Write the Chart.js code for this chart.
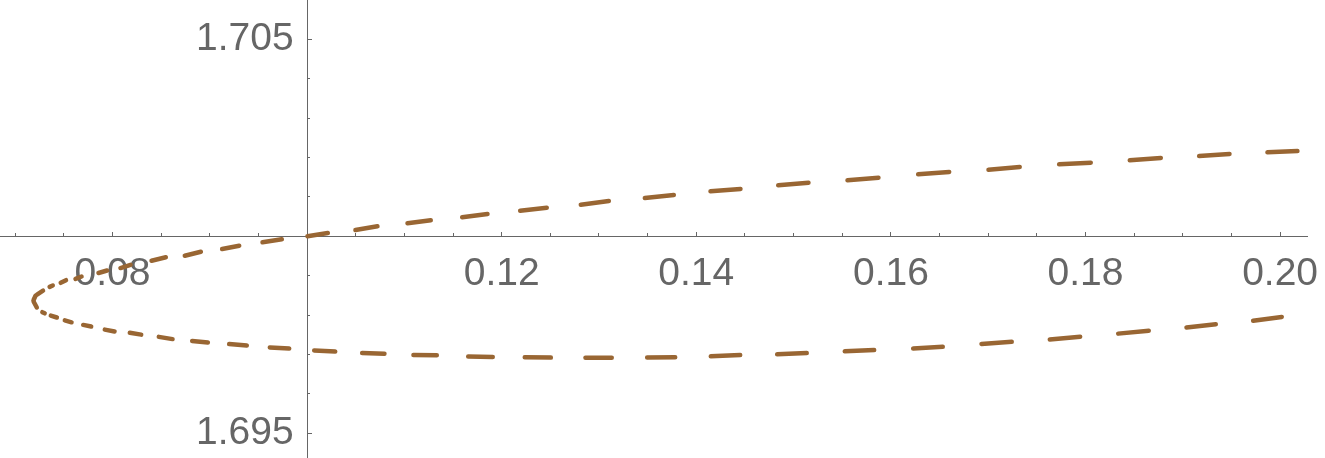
<!DOCTYPE html>
<html>
<head>
<meta charset="utf-8">
<script src="https://cdn.jsdelivr.net/npm/chart.js@4/dist/chart.umd.min.js"></script>
<style>
  html, body { margin: 0; padding: 0; background: #ffffff; }
  canvas { display: block; }
</style>
</head>
<body>
<canvas id="c" width="1325" height="458"></canvas>
<script>
// ---- tick values ----
const xMajorTicks = [0.08, 0.12, 0.14, 0.16, 0.18, 0.20];
const xMinorTicks = [0.070, 0.075, 0.085, 0.090, 0.095, 0.105, 0.110, 0.115, 0.125, 0.130,
                     0.135, 0.145, 0.150, 0.155, 0.165, 0.170, 0.175, 0.185, 0.190, 0.195];
const yMajorTicks = [1.695, 1.705];
const yMinorTicks = [1.696, 1.697, 1.698, 1.699, 1.701, 1.702, 1.703, 1.704];

// ---- curve samples (dash start / dash end pairs), upper branch right -> tip ----
const upperX = [0.20178, 0.19870, 0.19480, 0.19168, 0.18774, 0.18455, 0.18054, 0.17729, 0.17324, 0.17003,
                0.16599, 0.16280, 0.15872, 0.15554, 0.15153, 0.14842, 0.14454, 0.14146, 0.13769, 0.13471,
                0.13101, 0.12813, 0.12463, 0.12190, 0.11854, 0.11594, 0.11271, 0.11032, 0.10723, 0.10497,
                0.10213, 0.10004, 0.09740, 0.09542, 0.09302, 0.09127, 0.08908, 0.08743, 0.08548, 0.08401,
                0.08185, 0.08082, 0.07944, 0.07856, 0.07682, 0.07620, 0.07522, 0.07468, 0.07386, 0.07354,
                0.07286, 0.07224, 0.07209, 0.07189];
const upperY = [1.702165, 1.702132, 1.702089, 1.702038, 1.701987, 1.701929, 1.701868, 1.701827, 1.701759, 1.701690,
                1.701632, 1.701574, 1.701487, 1.701421, 1.701360, 1.701294, 1.701201, 1.701142, 1.701048, 1.700972,
                1.700896, 1.700802, 1.700726, 1.700650, 1.700566, 1.700482, 1.700406, 1.700330, 1.700254, 1.700160,
                1.700084, 1.700003, 1.699924, 1.699848, 1.699761, 1.699678, 1.699609, 1.699508, 1.699467, 1.699381,
                1.699277, 1.699195, 1.699132, 1.699069, 1.698980, 1.698921, 1.698886, 1.698820, 1.698751, 1.698716,
                1.698619, 1.698520, 1.698490, 1.698383];

// ---- lower branch tip -> right ----
const lowerX = [0.07189, 0.07222, 0.07279, 0.07303, 0.07366, 0.07428, 0.07510, 0.07579, 0.07699, 0.07781,
                0.07921, 0.08021, 0.08178, 0.08295, 0.08476, 0.08617, 0.08819, 0.08980, 0.09199, 0.09380,
                0.09617, 0.09816, 0.10073, 0.10289, 0.10566, 0.10795, 0.11093, 0.11333, 0.11656, 0.11908,
                0.12237, 0.12505, 0.12861, 0.13131, 0.13495, 0.13783, 0.14149, 0.14451, 0.14831, 0.15135,
                0.15526, 0.15828, 0.16229, 0.16533, 0.16931, 0.17242, 0.17633, 0.17945, 0.18336, 0.18650,
                0.19038, 0.19339, 0.19723, 0.20017];
const lowerY = [1.698345, 1.698193, 1.698074, 1.698046, 1.697987, 1.697939, 1.697866, 1.697817, 1.697751, 1.697711,
                1.697632, 1.697586, 1.697551, 1.697505, 1.697447, 1.697391, 1.697345, 1.697305, 1.697264, 1.697226,
                1.697180, 1.697150, 1.697104, 1.697074, 1.697038, 1.697020, 1.696987, 1.696980, 1.696949, 1.696937,
                1.696929, 1.696921, 1.696919, 1.696919, 1.696927, 1.696932, 1.696954, 1.696985, 1.697005, 1.697038,
                1.697081, 1.697114, 1.697150, 1.697196, 1.697269, 1.697322, 1.697378, 1.697449, 1.697530, 1.697602,
                1.697685, 1.697769, 1.697855, 1.697954];

// ---- view ----
const X_CROSS = 0.1, Y_CROSS = 1.7;
const X_MIN = 0.068438, X_MAX = 0.202765;
const Y_MIN = 1.694373, Y_MAX = 1.705998;
const Y_LABEL_SHIFT = 0.00138;   // gap between y labels and the y axis, in x units

const AXIS_GRAY = '#666666';
const CURVE = '#996633';
const FONT = { family: "'Liberation Sans', Arial, Helvetica, sans-serif", size: 39 };

function toPoints(xs, ys) { return xs.map((x, i) => ({ x: x, y: ys[i] })); }
function setTicks(values) { return scale => { scale.ticks = values.map(v => ({ value: v })); }; }
function noSpace(scale) {
  if (scale.isHorizontal()) scale.height = 0; else scale.width = 0;
  scale.paddingLeft = 0; scale.paddingRight = 0; scale.paddingTop = 0; scale.paddingBottom = 0;
}
const dashed = { borderColor: ctx => (ctx.p0DataIndex % 2 === 0 ? CURVE : 'rgba(0,0,0,0)') };

function xScale(extra) {
  return Object.assign({ type: 'linear', axis: 'x', min: X_MIN, max: X_MAX, bounds: 'data',
    position: { y: Y_CROSS }, afterFit: noSpace }, extra);
}
function yScale(extra) {
  return Object.assign({ type: 'linear', axis: 'y', min: Y_MIN, max: Y_MAX, bounds: 'data',
    position: { x: X_CROSS }, afterFit: noSpace }, extra);
}

const lineStyle = {
  borderWidth: 4.5, borderCapStyle: 'round', borderJoinStyle: 'round',
  pointRadius: 0, pointHoverRadius: 0, tension: 0, fill: false,
  segment: dashed, borderColor: CURVE
};

new Chart(document.getElementById('c'), {
  type: 'line',
  data: {
    datasets: [
      Object.assign({ label: 'upper', data: toPoints(upperX, upperY), xAxisID: 'x', yAxisID: 'y' }, lineStyle),
      Object.assign({ label: 'lower', data: toPoints(lowerX, lowerY), xAxisID: 'x', yAxisID: 'y' }, lineStyle)
    ]
  },
  options: {
    responsive: false,
    animation: false,
    devicePixelRatio: 1,
    layout: { padding: { left: 0, top: 0, right: 18, bottom: 0 } },
    plugins: { legend: { display: false }, tooltip: { enabled: false } },
    events: [],
    scales: {
      x: xScale({
        border: { display: false },
        grid: { display: false, drawTicks: false },
        ticks: { color: AXIS_GRAY, font: FONT, padding: 15, autoSkip: false, maxRotation: 0, minRotation: 0,
                 callback: v => Number(v).toFixed(2) },
        afterBuildTicks: setTicks(xMajorTicks)
      }),
      xAxis: xScale({
        border: { display: true, color: AXIS_GRAY, width: 1 },
        grid: { display: true, drawOnChartArea: false, drawTicks: true, tickLength: -5, tickColor: AXIS_GRAY, tickWidth: 1 },
        ticks: { display: false, autoSkip: false },
        afterBuildTicks: setTicks(xMajorTicks)
      }),
      xMinor: xScale({
        border: { display: false },
        grid: { display: true, drawOnChartArea: false, drawTicks: true, tickLength: -3, tickColor: AXIS_GRAY, tickWidth: 1 },
        ticks: { display: false, autoSkip: false },
        afterBuildTicks: setTicks(xMinorTicks)
      }),
      y: yScale({
        position: { x: X_CROSS - Y_LABEL_SHIFT },
        border: { display: false },
        grid: { display: false, drawTicks: false },
        ticks: { color: AXIS_GRAY, font: FONT, padding: 0, autoSkip: false,
                 callback: v => Number(v).toFixed(3) },
        afterBuildTicks: setTicks(yMajorTicks)
      }),
      yAxis: yScale({
        border: { display: true, color: AXIS_GRAY, width: 1 },
        grid: { display: true, drawOnChartArea: false, drawTicks: true, tickLength: -5, tickColor: AXIS_GRAY, tickWidth: 1 },
        ticks: { display: false, autoSkip: false },
        afterBuildTicks: setTicks(yMajorTicks)
      }),
      yMinor: yScale({
        border: { display: false },
        grid: { display: true, drawOnChartArea: false, drawTicks: true, tickLength: -3, tickColor: AXIS_GRAY, tickWidth: 1 },
        ticks: { display: false, autoSkip: false },
        afterBuildTicks: setTicks(yMinorTicks)
      })
    }
  }
});
</script>
</body>
</html>
